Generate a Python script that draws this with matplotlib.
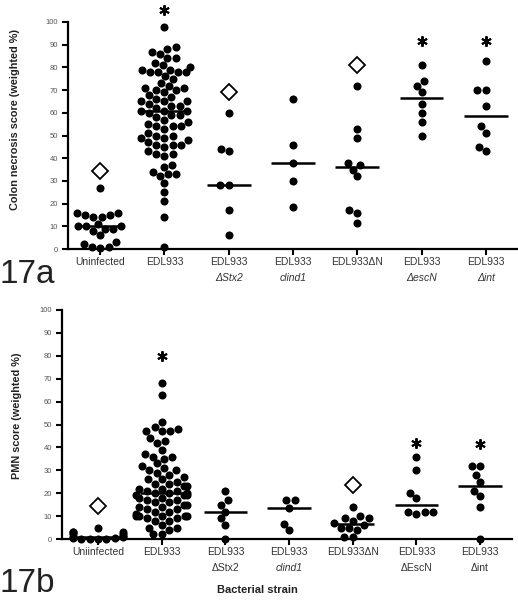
import numpy as np
import pandas as pd
import seaborn as sns
import matplotlib.pyplot as plt

plt.rcParams['font.family'] = ['Liberation Sans', 'DejaVu Sans']

# ---- data, panel 17a (colon necrosis) ----
strains_a = ['Uninfected', 'EDL933', 'EDL933', 'EDL933', 'EDL933\u0394N', 'EDL933', 'EDL933']
strains_a2 = ['', '', '\u0394Stx2', 'clind1', '', '\u0394escN', '\u0394int']
nec_uninfected = [27, 16, 16, 15, 15, 14, 14, 11, 10, 10, 10, 9, 9, 8, 6, 3, 2, 1, 1, 0.5]
nec_edl933 = [98, 89, 88, 87, 86, 84, 84, 82, 81, 80, 79, 79, 78, 78, 78, 78, 76, 75, 73,
              72, 71, 71, 70, 70, 69, 68, 67, 66, 65, 65, 65, 64, 63, 63, 62, 61, 61, 61,
              60, 59, 59, 58, 57, 56, 55, 54, 54, 54, 53, 51, 50, 50, 49, 49, 48, 47, 46,
              46, 46, 45, 43, 42, 42, 41, 37, 36, 34, 33, 33, 32, 29, 25, 21, 14, 1]
nec_stx2 = [60, 44, 43, 28, 28, 17, 6]
nec_clind1 = [66, 46, 38, 30, 18.5]
nec_dN = [72, 53, 49, 38, 37, 35, 32, 17, 16, 11.5]
nec_escN = [81, 74, 72, 69, 64, 60, 56, 50]
nec_int = [83, 70, 70, 63, 54, 51, 45, 43]
diamond_a = [34.5, np.nan, 69, np.nan, 81, np.nan, np.nan]
star_a = [np.nan, 105.5, np.nan, np.nan, np.nan, 91.5, 91.5]

# ---- data, panel 17b (PMN) ----
strains_b = ['Uniinfected', 'EDL933', 'EDL933', 'EDL933', 'EDL933\u0394N', 'EDL933', 'EDL933']
strains_b2 = ['', '', '\u0394Stx2', 'clind1', '', '\u0394EscN', '\u0394int']
pmn_uninfected = [5, 3, 3, 3, 2, 2, 1.5, 1, 1, 0.5, 0.5, 0, 0, 0, 0]
pmn_edl933 = [68, 63, 51, 49, 48, 47, 47, 47, 44, 43, 42, 39, 37, 36, 36, 35, 33, 32, 31,
              30, 30, 29, 28, 27, 26, 26, 25, 24, 24, 23, 23, 22, 22, 21, 21, 20, 20, 20,
              19, 19, 19, 18, 18, 17, 17, 16, 16, 15, 15, 14, 14, 13, 13, 12, 12, 11, 10,
              10, 10, 10, 10, 9, 9, 8, 8, 6, 5, 5, 4, 2, 2]
pmn_stx2 = [21, 17, 15, 12, 9, 6, 0]
pmn_clind1 = [17, 17, 13.7, 6.5, 3.8]
pmn_dN = [14, 10, 9, 9, 8, 7, 6, 5, 5, 4, 1, 1]
pmn_escN = [36, 30, 20, 17.7, 12, 12, 11.6, 11]
pmn_int = [32, 32, 28, 25, 21, 18.6, 14, 0]
diamond_b = [14.5, np.nan, np.nan, np.nan, 23.4, np.nan, np.nan]
star_b = [np.nan, 79.7, np.nan, np.nan, np.nan, 42, 41.5]

groups_a = [nec_uninfected, nec_edl933, nec_stx2, nec_clind1, nec_dN, nec_escN, nec_int]
groups_b = [pmn_uninfected, pmn_edl933, pmn_stx2, pmn_clind1, pmn_dN, pmn_escN, pmn_int]
italic_a = [False, False, True, True, False, True, True]
italic_b = [False, False, False, True, False, False, False]


def panel(ax, groups, labels, labels2, italic2, diamonds, stars, ylabel, xlim, label_xy):
    df = pd.DataFrame({'g': np.concatenate([[i] * len(v) for i, v in enumerate(groups)]),
                       'v': np.concatenate(groups)})
    ax.set_xlim(*xlim)
    ax.set_ylim(0, 100)
    sns.swarmplot(data=df, x='g', y='v', order=list(range(7)), color='black', size=5.8,
                  native_scale=True, ax=ax, warn_thresh=1)
    for c in ax.collections:
        c.set_clip_on(False)
    x = np.arange(7)
    med = [np.median(v) for v in groups]
    ax.hlines(med, x - 0.34, x + 0.34, color='black', lw=1.8, zorder=5)
    ax.plot(x, diamonds, ls='none', marker='D', ms=8, mfc='white', mec='black', mew=1.3,
            clip_on=False)
    ax.plot(x, stars, ls='none', marker=(6, 2, 0), ms=7.5, mec='black', mew=1.4, clip_on=False)
    ax.set_xlim(*xlim)
    ax.set_ylim(0, 100)
    ax.set_yticks(np.arange(0, 101, 10))
    ax.tick_params(axis='y', labelsize=5.5, labelcolor='#555555', length=4, width=1.5, pad=3)
    ax.set_xticks(x)
    ax.set_xticklabels(labels)
    ax.tick_params(axis='x', labelsize=7.5, labelcolor='#333333', length=4, width=1.5, pad=2)
    for i, t in enumerate(labels2):
        ax.annotate(t, xy=(i, 0), xycoords=('data', 'axes fraction'), xytext=(0, -21),
                    textcoords='offset points', ha='center', va='center', fontsize=7.5,
                    color='#333333', style='italic' if italic2[i] else 'normal')
    ax.set_xlabel('')
    ax.set_ylabel(ylabel, fontsize=7.8, fontweight='bold', color='#222222')
    ax.yaxis.set_label_coords(*label_xy)
    for s in ['top', 'right']:
        ax.spines[s].set_visible(False)
    ax.spines['left'].set_linewidth(1.6)
    ax.spines['bottom'].set_linewidth(1.6)


fig = plt.figure(figsize=(5.18, 6.0), dpi=100)
ax1 = fig.add_axes([68 / 518, 1 - 249 / 600, 450 / 518, 227 / 600])
ax2 = fig.add_axes([62 / 518, 1 - 539 / 600, 450 / 518, 229 / 600])

panel(ax1, groups_a, strains_a, strains_a2, italic_a, diamond_a, star_a,
      'Colon necrosis score (weighted %)', (-0.5, 6.5), (-0.107, 0.57))
panel(ax2, groups_b, strains_b, strains_b2, italic_b, diamond_b, star_b,
      'PMN score (weighted %)', (-0.565, 6.5), (-0.089, 0.537))

fig.text(0.0, 1 - 275 / 600, '17a', fontsize=24, va='center', ha='left', color='#222222')
fig.text(0.0, 1 - 584 / 600, '17b', fontsize=24, va='center', ha='left', color='#222222')
fig.text(257 / 518, 1 - 590 / 600, 'Bacterial strain', fontsize=8, fontweight='bold',
         ha='center', va='center', color='#222222')

fig.savefig('out.png', dpi=100)
